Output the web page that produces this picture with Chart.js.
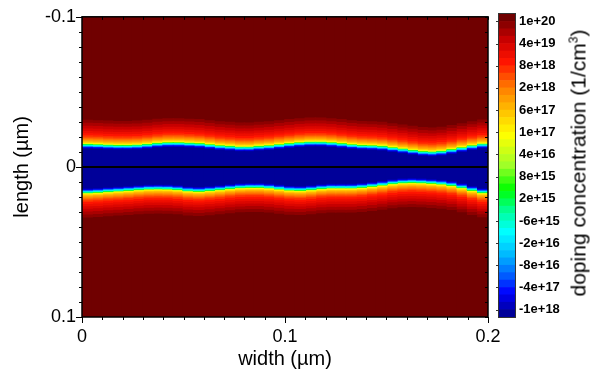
<!DOCTYPE html>
<html lang="en">
<head>
  <meta charset="UTF-8">
  <title>Doping concentration</title>
  <script src="https://cdn.jsdelivr.net/npm/chart.js"></script>
  <style>
    body { margin: 0; background: #fff; }
    #wrap { position: relative; width: 591px; height: 378px; font-family: 'Liberation Sans', Arial, sans-serif; }
    canvas { position: absolute; top: 0; }
    #main { left: 0; }
    #cbar { left: 490px; }
    #cbarTitle {
      position: absolute; left: 578px; top: 163px;
      transform: translate(-50%, -50%) rotate(-90deg);
      white-space: nowrap; font-size: 21px; color: #000; line-height: 1;
    }
    #cbarTitle sup { font-size: 12px; }
  </style>
</head>
<body>
  <div id="wrap">
    <canvas id="main" width="591" height="378"></canvas>
    <canvas id="cbar" width="101" height="378"></canvas>
    <div id="cbarTitle">doping concentration (1/cm<sup>3</sup>)</div>
  </div>

  <script>
    // column centres along the width (µm)
    const xCenters = [0.0025, 0.0075, 0.0125, 0.0175, 0.0225, 0.0275, 0.0325, 0.0375, 0.0425, 0.0475,
      0.0525, 0.0575, 0.0625, 0.0675, 0.0725, 0.0775, 0.0825, 0.0875, 0.0925, 0.0975,
      0.1025, 0.1075, 0.1125, 0.1175, 0.1225, 0.1275, 0.1325, 0.1375, 0.1425, 0.1475,
      0.1525, 0.1575, 0.1625, 0.1675, 0.1725, 0.1775, 0.1825, 0.1875, 0.1925, 0.1975];

    // upper and lower p-n junction positions (µm)
    const topJunction = [-0.0142, -0.0140, -0.0137, -0.0135, -0.0135, -0.0137, -0.0142, -0.0149, -0.0153, -0.0153,
      -0.0150, -0.0147, -0.0140, -0.0133, -0.0129, -0.0124, -0.0124, -0.0129, -0.0133, -0.0140,
      -0.0147, -0.0153, -0.0157, -0.0157, -0.0153, -0.0147, -0.0140, -0.0135, -0.0133, -0.0129,
      -0.0120, -0.0111, -0.0102, -0.0094, -0.0091, -0.0096, -0.0107, -0.0120, -0.0133, -0.0144];
    const bottomJunction = [0.0165, 0.0162, 0.0157, 0.0153, 0.0149, 0.0144, 0.0140, 0.0139, 0.0140, 0.0144,
      0.0152, 0.0155, 0.0150, 0.0144, 0.0137, 0.0131, 0.0129, 0.0129, 0.0133, 0.0140,
      0.0147, 0.0149, 0.0144, 0.0137, 0.0133, 0.0133, 0.0133, 0.0129, 0.0122, 0.0114,
      0.0104, 0.0098, 0.0096, 0.0098, 0.0102, 0.0107, 0.0116, 0.0131, 0.0149, 0.0164];

    // depth into the n side (µm) where colour levels 11..39 end
    const nSideDepth = [0.0002, 0.0003, 0.0004, 0.0005, 0.0006, 0.00066, 0.00073, 0.00083, 0.00092, 0.00102,
      0.00112, 0.00122, 0.00132, 0.00152, 0.00178, 0.00211, 0.00257, 0.0031, 0.0037, 0.00436,
      0.00508, 0.00587, 0.00693, 0.00825, 0.00977, 0.01142, 0.0132, 0.01518, 0.01716];
    // depth into the p side (µm) where colour levels 9..0 begin
    const pSideDepth = [0.0002, 0.00036, 0.00053, 0.00066, 0.00079, 0.00092, 0.00112, 0.00132, 0.00165, 0.00205];

    const xTicks = [0, 0.1, 0.2];
    const yTicks = [-0.1, 0, 0.1];
    const cbarLabels = ['1e+20', '4e+19', '8e+18', '2e+18', '6e+17', '1e+17', '4e+16', '8e+15', '2e+15',
      '-6e+15', '-2e+16', '-8e+16', '-4e+17', '-1e+18'];
    const cbarTickPos = [1, 4, 7, 10, 13, 16, 19, 22, 25, 28, 31, 34, 37, 40];
    const levelCount = 41;

    const FONT = "'Liberation Sans', Arial, sans-serif";
    Chart.defaults.font.family = FONT;
    Chart.defaults.color = '#000';

    // jet-like colour map
    const stops = [
      [0.00, [0, 0, 135]], [0.08, [0, 0, 255]], [0.14, [0, 100, 255]], [0.20, [0, 180, 255]],
      [0.28, [0, 255, 255]], [0.35, [0, 255, 150]], [0.42, [0, 255, 0]], [0.50, [160, 255, 40]],
      [0.60, [255, 255, 0]], [0.67, [255, 200, 0]], [0.75, [255, 130, 0]], [0.84, [255, 20, 0]],
      [0.91, [205, 0, 0]], [1.00, [98, 0, 0]]
    ];
    function levelColor(b) {
      const t = (b + 0.5) / levelCount;
      for (let i = 1; i < stops.length; i++) {
        if (t <= stops[i][0] || i === stops.length - 1) {
          const [t0, c0] = stops[i - 1], [t1, c1] = stops[i];
          const f = Math.min(1, Math.max(0, (t - t0) / (t1 - t0)));
          const c = c0.map((v, k) => Math.round(v + (c1[k] - v) * f));
          return `rgb(${c[0]},${c[1]},${c[2]})`;
        }
      }
    }

    // nested floating bars, outermost first
    const layers = [];
    function addLevel(b, lo, hi) {
      layers.push({
        data: xCenters.map((x, i) => ({ x: x, y: [lo(i), hi(i)] })),
        backgroundColor: levelColor(b)
      });
    }
    addLevel(40, () => -0.1, i => topJunction[i]);
    for (let k = nSideDepth.length - 1; k >= 0; k--) {
      addLevel(11 + k, i => topJunction[i] - nSideDepth[k], i => topJunction[i]);
    }
    addLevel(40, i => bottomJunction[i], () => 0.1);
    for (let k = nSideDepth.length - 1; k >= 0; k--) {
      addLevel(11 + k, i => bottomJunction[i], i => bottomJunction[i] + nSideDepth[k]);
    }
    addLevel(10, i => topJunction[i], i => bottomJunction[i]);
    for (let k = 0; k < pSideDepth.length; k++) {
      addLevel(9 - k, i => topJunction[i] + pSideDepth[k], i => bottomJunction[i] - pSideDepth[k]);
    }
    // Chart.js paints the last dataset first, so flip to keep inner layers on top
    const datasets = layers.reverse();

    // frame, zero line and tick marks of the plot
    const framePlugin = {
      id: 'frame',
      afterDatasetsDraw(chart) {
        const { ctx, chartArea: a, scales: { x, y } } = chart;
        ctx.save();
        ctx.strokeStyle = '#000';
        ctx.lineWidth = 2;
        const y0 = y.getPixelForValue(0);
        ctx.beginPath(); ctx.moveTo(a.left, y0); ctx.lineTo(a.right, y0); ctx.stroke();
        ctx.lineWidth = 1;
        ctx.beginPath();
        for (let k = 0; k <= 20; k++) {
          const px = Math.round(x.getPixelForValue(k / 100)) + 0.5;
          const len = k % 10 === 0 ? 6 : 3;
          ctx.moveTo(px, a.bottom); ctx.lineTo(px, a.bottom + len);
          ctx.moveTo(px, a.top); ctx.lineTo(px, a.top + 3);
        }
        for (let k = -10; k <= 10; k++) {
          const py = Math.round(y.getPixelForValue(k / 100)) + 0.5;
          const len = k % 10 === 0 ? 6 : 3;
          ctx.moveTo(a.left, py); ctx.lineTo(a.left - len, py);
          ctx.moveTo(a.right, py); ctx.lineTo(a.right - 3, py);
        }
        ctx.stroke();
        ctx.lineWidth = 1.5;
        ctx.strokeRect(a.left, a.top, a.right - a.left, a.bottom - a.top);
        ctx.restore();
      }
    };

    new Chart(document.getElementById('main'), {
      type: 'bar',
      data: { datasets: datasets },
      options: {
        responsive: false,
        animation: false,
        devicePixelRatio: 1,
        layout: { padding: { left: 10, top: 14, right: 103, bottom: 7 } },
        datasets: { bar: { grouped: false, categoryPercentage: 1, barPercentage: 1.15, borderWidth: 0 } },
        plugins: { legend: { display: false }, tooltip: { enabled: false } },
        scales: {
          x: {
            type: 'linear', min: 0, max: 0.2, offset: false,
            grid: { display: false, drawTicks: false, offset: false },
            border: { display: false },
            afterBuildTicks: s => { s.ticks = xTicks.map(v => ({ value: v })); },
            ticks: { padding: 9, maxRotation: 0, font: { size: 18 }, callback: v => String(Math.round(v * 10) / 10) },
            title: { display: true, text: 'width (µm)', font: { size: 20 }, padding: 0 },
            afterFit: s => { s.height = 54; }
          },
          y: {
            type: 'linear', min: -0.1, max: 0.1, reverse: true,
            grid: { display: false, drawTicks: false },
            border: { display: false },
            afterBuildTicks: s => { s.ticks = yTicks.map(v => ({ value: v })); },
            ticks: { padding: 6, font: { size: 18 }, callback: v => String(Math.round(v * 10) / 10) },
            title: { display: true, text: 'length (µm)', font: { size: 20 }, padding: 0 },
            afterFit: s => { s.width = 72; }
          }
        }
      },
      plugins: [framePlugin]
    });

    // colour bar
    const cbarFrame = {
      id: 'cbarFrame',
      afterDatasetsDraw(chart) {
        const { ctx, chartArea: a, scales: { y } } = chart;
        ctx.save();
        ctx.strokeStyle = '#333';
        ctx.lineWidth = 1;
        ctx.strokeRect(a.left - 0.5, a.top - 0.5, a.right - a.left + 1, a.bottom - a.top + 1);
        ctx.beginPath();
        cbarTickPos.forEach(v => {
          const py = Math.round(y.getPixelForValue(v)) + 0.5;
          ctx.moveTo(a.left - 0.5, py); ctx.lineTo(a.left - 3, py);
        });
        ctx.stroke();
        ctx.restore();
      }
    };

    const levels = [];
    for (let b = 0; b < levelCount; b++) levels.push(b);

    new Chart(document.getElementById('cbar'), {
      type: 'bar',
      data: {
        labels: [''],
        datasets: levels.map(b => ({ data: [1], backgroundColor: levelColor(b) }))
      },
      options: {
        responsive: false,
        animation: false,
        devicePixelRatio: 1,
        layout: { padding: { left: 9, top: 14, right: 0, bottom: 61 } },
        datasets: { bar: { categoryPercentage: 1, barPercentage: 1, borderWidth: 0 } },
        plugins: { legend: { display: false }, tooltip: { enabled: false } },
        scales: {
          x: { display: false, stacked: true },
          y: {
            stacked: true, position: 'right', min: 0, max: levelCount,
            grid: { display: false, drawTicks: false },
            border: { display: false },
            afterBuildTicks: s => { s.ticks = cbarTickPos.map(v => ({ value: v })); },
            ticks: { padding: 4, font: { size: 13, weight: 'bold' }, callback: (v, i) => cbarLabels[cbarLabels.length - 1 - i] },
            afterFit: s => { s.width = 76; }
          }
        }
      },
      plugins: [cbarFrame]
    });
  </script>
</body>
</html>
